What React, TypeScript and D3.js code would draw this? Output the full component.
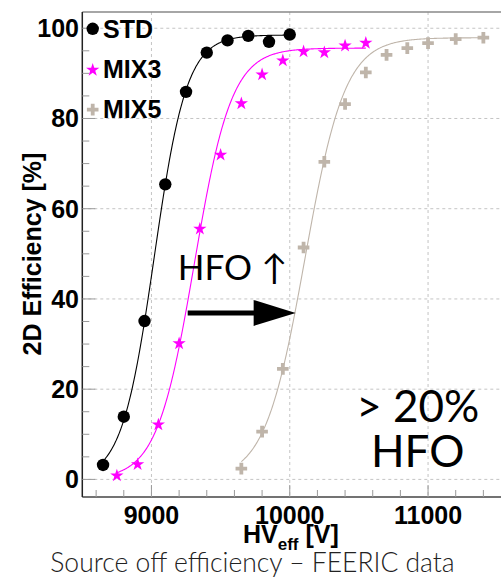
import React from "react";
import * as d3 from "d3";

const seriesNames = ["STD", "MIX3", "MIX5"];
const seriesColors = ["#000000", "#ff00ff", "#bfb5aa"];
const stdHV = [8650, 8800, 8950, 9100, 9250, 9400, 9550, 9700, 9850, 10000];
const stdEff = [3.2, 13.9, 35.1, 65.4, 85.9, 94.6, 97.3, 98.3, 97.0, 98.6];
const mix3HV = [8750, 8900, 9050, 9200, 9350, 9500, 9650, 9800, 9950, 10100, 10250, 10400, 10550];
const mix3Eff = [1.0, 3.5, 12.3, 30.3, 55.7, 72.1, 83.5, 89.9, 93.0, 95.0, 94.8, 96.3, 96.9];
const mix5HV = [9650, 9800, 9950, 10100, 10250, 10400, 10550, 10700, 10850, 11000, 11200, 11400];
const mix5Eff = [2.4, 10.6, 24.5, 51.4, 70.4, 83.2, 90.2, 94.1, 95.6, 96.7, 97.6, 97.9];
// sigmoid fit parameters (plateau, HV at half plateau, width)
const fitMax = [98.5, 95.6, 97.9];
const fitHalf = [9020, 9310, 10110];
const fitWidth = [117.5, 135, 145];

const xTickLabels = [9000, 10000, 11000];
const yTickLabels = [0, 20, 40, 60, 80, 100];

const W = 501;
const H = 577;
const left = 82.3;
const top = 12;
const bottom = 497;

const x = d3.scaleLinear().domain([8500, 11560]).range([left, left + 3060 * 0.1383]);
const y = d3.scaleLinear().domain([-3.9, 103.6]).range([bottom, top]);

const AXF = "'Liberation Sans', Arial, Helvetica, sans-serif";
const LATO = "Lato, 'Open Sans', sans-serif";

function crossPath(cx: number, cy: number, a = 5.8, b = 1.9) {
  return `M${cx - b},${cy - a}H${cx + b}V${cy - b}H${cx + a}V${cy + b}H${cx + b}V${cy + a}H${cx - b}V${cy + b}H${cx - a}V${cy - b}H${cx - b}Z`;
}

const starSym = d3.symbol().type(d3.symbolStar).size(55)();

function Marker({ kind, cx, cy, color }: { kind: number; cx: number; cy: number; color: string }) {
  if (kind === 0) return <circle cx={cx} cy={cy} r={6.2} fill={color} />;
  if (kind === 1) return <path d={starSym || ""} transform={`translate(${cx},${cy + 0.8})`} fill={color} />;
  return <path d={crossPath(cx, cy)} fill={color} />;
}

export default function App() {
  const hvs = [stdHV, mix3HV, mix5HV];
  const effs = [stdEff, mix3Eff, mix5Eff];

  const xMinor = d3.range(8600, 11600, 200);
  const yMinor = d3.range(0, 101, 5);

  const line = d3
    .line<[number, number]>()
    .x((d) => x(d[0]))
    .y((d) => y(d[1]));

  const fits = hvs.map((hv, i) => {
    const lo = hv[0];
    const hi = hv[hv.length - 1];
    const pts: [number, number][] = d3
      .range(lo, hi + 0.1, 5)
      .map((v) => [v, fitMax[i] / (1 + Math.exp(-(v - fitHalf[i]) / fitWidth[i]))]);
    return line(pts) || "";
  });

  const xEnd = x.range()[1];

  // annotation anchors in data coordinates
  const arrowStart = 9262;
  const arrowHeadBase = 9739;
  const arrowTip = 10043;
  const arrowEff = 36.9;

  return (
    <svg
      width={W}
      height={H}
      style={{ position: "absolute", left: 0, top: 0, background: "#fff" }}
      xmlns="http://www.w3.org/2000/svg"
    >
      <rect width={W} height={H} fill="#fff" />
      {/* grid */}
      {yTickLabels.map((v) => (
        <line key={"gy" + v} x1={left} x2={xEnd} y1={y(v)} y2={y(v)} stroke="#c4c4c4" strokeDasharray="3,3" strokeWidth={1} />
      ))}
      {xTickLabels.map((v) => (
        <line key={"gx" + v} x1={x(v)} x2={x(v)} y1={top} y2={bottom} stroke="#c4c4c4" strokeDasharray="3,3" strokeWidth={1} />
      ))}
      {/* frame */}
      <line x1={left} x2={xEnd} y1={top} y2={top} stroke="#888" strokeWidth={1.5} />
      <line x1={left} x2={xEnd} y1={bottom} y2={bottom} stroke="#444" strokeWidth={1.5} />
      <line x1={left} x2={left} y1={top} y2={bottom} stroke="#222" strokeWidth={1.5} />
      {/* ticks */}
      {xMinor.map((v) => (
        <line key={"tx" + v} x1={x(v)} x2={x(v)} y1={bottom} y2={bottom - (v % 1000 === 0 ? 12 : 7)} stroke="#999" strokeWidth={1} />
      ))}
      {yMinor.map((v) => (
        <line key={"ty" + v} x1={left} x2={left + (v % 20 === 0 ? 13 : 7)} y1={y(v)} y2={y(v)} stroke="#999" strokeWidth={1} />
      ))}
      {/* tick labels */}
      {yTickLabels.map((v) => (
        <text key={"ly" + v} x={79} y={y(v) + 9} textAnchor="end" fontFamily={AXF} fontWeight="bold" fontSize={25} fill="#000">
          {v}
        </text>
      ))}
      {xTickLabels.map((v) => (
        <text key={"lx" + v} x={x(v)} y={523.5} textAnchor="middle" fontFamily={AXF} fontWeight="bold" fontSize={25} fill="#000">
          {v}
        </text>
      ))}
      {/* axis titles */}
      <text x={243} y={543} fontFamily={AXF} fontWeight="bold" fontSize={25} fill="#000">
        HV
        <tspan fontSize={17} dy={7}>eff</tspan>
        <tspan dy={-7}> [V]</tspan>
      </text>
      <text
        transform={`translate(41,254) rotate(-90)`}
        textAnchor="middle"
        fontFamily={AXF}
        fontWeight="bold"
        fontSize={25}
        fill="#000"
      >
        2D Efficiency [%]
      </text>
      {/* fit curves */}
      {fits.map((d, i) => (
        <path key={"fit" + i} d={d} fill="none" stroke={seriesColors[i]} strokeWidth={1.1} />
      ))}
      {/* markers */}
      {hvs.map((hv, i) =>
        hv.map((v, j) => (
          <Marker key={`m${i}-${j}`} kind={i} cx={x(v)} cy={y(effs[i][j])} color={seriesColors[i]} />
        ))
      )}
      {/* legend */}
      {seriesNames.map((n, i) => (
        <g key={"leg" + n}>
          <Marker kind={i} cx={92.7} cy={28.8 + i * 40.4} color={seriesColors[i]} />
          <text x={103} y={37.6 + i * 40.4} fontFamily={AXF} fontWeight="bold" fontSize={25} fill="#000">
            {n}
          </text>
        </g>
      ))}
      {/* annotations */}
      <text x={x(9190)} y={y(44.2)} fontFamily={LATO} fontSize={35} fill="#000">
        HFO ↑
      </text>
      <line x1={x(arrowStart)} x2={x(arrowHeadBase) + 2} y1={y(arrowEff)} y2={y(arrowEff)} stroke="#000" strokeWidth={5} />
      <path
        d={`M${x(arrowHeadBase)},${y(arrowEff) - 13}L${x(arrowTip)},${y(arrowEff)}L${x(arrowHeadBase)},${y(arrowEff) + 13}Z`}
        fill="#000"
      />
      <text x={x(10925)} y={y(12.8)} textAnchor="middle" fontFamily={LATO} fontSize={44} fill="#000">
        {"> 20%"}
      </text>
      <text x={x(10925)} y={y(2.8)} textAnchor="middle" fontFamily={LATO} fontSize={44} fill="#000">
        HFO
      </text>
      {/* caption */}
      <text x={252.5} y={572} textAnchor="middle" fontFamily={LATO} fontWeight={300} fontSize={26.5} fill="#222">
        Source off efficiency – FEERIC data
      </text>
    </svg>
  );
}
